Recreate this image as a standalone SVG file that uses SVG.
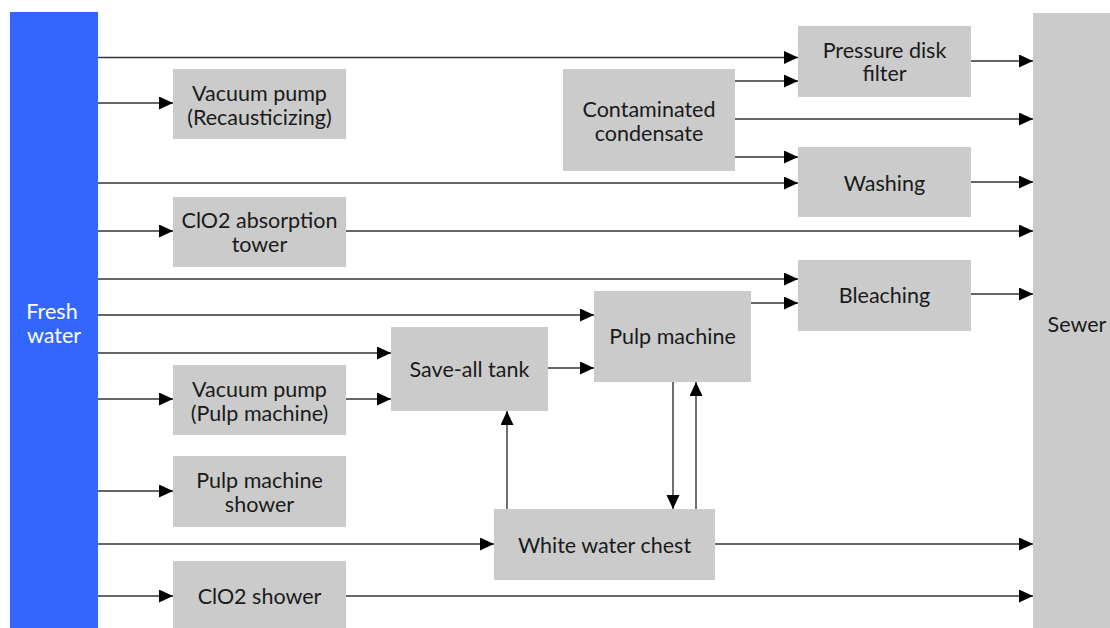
<svg xmlns="http://www.w3.org/2000/svg" width="1110" height="628" viewBox="0 0 1110 628">
<defs>
<marker id="ah" markerUnits="userSpaceOnUse" markerWidth="16" markerHeight="14" refX="14" refY="6.5" orient="auto">
<path d="M0,0 L14,6.5 L0,13 Z" fill="#000"/>
</marker>
</defs>
<style>
.box{fill:#cbcbcb}
.t{font-family:Lato,"Open Sans","Liberation Sans",sans-serif;font-size:21.5px;fill:#1a1a1a;text-anchor:middle}
.w{fill:#ffffff}
.c line{stroke:#333;stroke-width:1.4;marker-end:url(#ah)}
</style>
<rect width="1110" height="628" fill="#fff"/>
<g id="fresh-water"><rect x="10" y="12" width="88" height="616" fill="#3366ff"/><text class="t w" x="52" y="319">Fresh</text><text class="t w" x="54" y="343">water</text></g>
<g id="sewer"><rect class="box" x="1033" y="13" width="77" height="615"/><text class="t" x="1077" y="332">Sewer</text></g>
<g id="vp-rec"><rect class="box" x="173" y="69" width="173" height="70"/><text class="t" x="259.5" y="101">Vacuum pump</text><text class="t" x="259.5" y="125">(Recausticizing)</text></g>
<g id="clo2-tower"><rect class="box" x="173" y="197" width="173" height="70"/><text class="t" x="259.5" y="228">ClO2 absorption</text><text class="t" x="259.5" y="252">tower</text></g>
<g id="condensate"><rect class="box" x="563" y="69" width="172" height="102"/><text class="t" x="649" y="117">Contaminated</text><text class="t" x="649" y="140.5">condensate</text></g>
<g id="pdf"><rect class="box" x="798" y="26" width="173" height="71"/><text class="t" x="884.5" y="57.5">Pressure disk</text><text class="t" x="884.5" y="81">filter</text></g>
<g id="washing"><rect class="box" x="798" y="147" width="173" height="70"/><text class="t" x="884.5" y="191">Washing</text></g>
<g id="bleaching"><rect class="box" x="798" y="260" width="173" height="71"/><text class="t" x="884.5" y="303">Bleaching</text></g>
<g id="pulp-machine"><rect class="box" x="594" y="291" width="157" height="91"/><text class="t" x="672.5" y="344">Pulp machine</text></g>
<g id="save-all"><rect class="box" x="391" y="327" width="157" height="84"/><text class="t" x="469.5" y="377">Save-all tank</text></g>
<g id="vp-pulp"><rect class="box" x="173" y="365" width="173" height="70"/><text class="t" x="259.5" y="397">Vacuum pump</text><text class="t" x="259.5" y="421">(Pulp machine)</text></g>
<g id="pm-shower"><rect class="box" x="173" y="456" width="173" height="71"/><text class="t" x="259.5" y="488">Pulp machine</text><text class="t" x="259.5" y="512">shower</text></g>
<g id="wwc"><rect class="box" x="494" y="509" width="221" height="71"/><text class="t" x="604.5" y="553">White water chest</text></g>
<g id="clo2-shower"><rect class="box" x="173" y="561" width="173" height="67"/><text class="t" x="259.5" y="604">ClO2 shower</text></g>
<g id="connectors" class="c">
<line x1="98" y1="57.5" x2="798" y2="57.5"/>
<line x1="98" y1="103" x2="173" y2="103"/>
<line x1="735" y1="81" x2="798" y2="81"/>
<line x1="735" y1="119" x2="1033" y2="119"/>
<line x1="735" y1="157" x2="798" y2="157"/>
<line x1="98" y1="183" x2="798" y2="183"/>
<line x1="971" y1="61" x2="1033" y2="61"/>
<line x1="971" y1="182" x2="1033" y2="182"/>
<line x1="98" y1="231" x2="173" y2="231"/>
<line x1="346" y1="231" x2="1033" y2="231"/>
<line x1="98" y1="279" x2="798" y2="279"/>
<line x1="98" y1="315" x2="594" y2="315"/>
<line x1="751" y1="303" x2="798" y2="303"/>
<line x1="971" y1="294" x2="1033" y2="294"/>
<line x1="98" y1="353" x2="391" y2="353"/>
<line x1="98" y1="399" x2="173" y2="399"/>
<line x1="346" y1="399" x2="391" y2="399"/>
<line x1="548" y1="368" x2="594" y2="368"/>
<line x1="98" y1="491" x2="173" y2="491"/>
<line x1="98" y1="544" x2="494" y2="544"/>
<line x1="715" y1="544" x2="1033" y2="544"/>
<line x1="98" y1="596" x2="173" y2="596"/>
<line x1="346" y1="596" x2="1033" y2="596"/>
<line x1="507" y1="509" x2="507" y2="411"/>
<line x1="673" y1="382" x2="673" y2="509"/>
<line x1="696" y1="509" x2="696" y2="382"/>
</g>
</svg>
